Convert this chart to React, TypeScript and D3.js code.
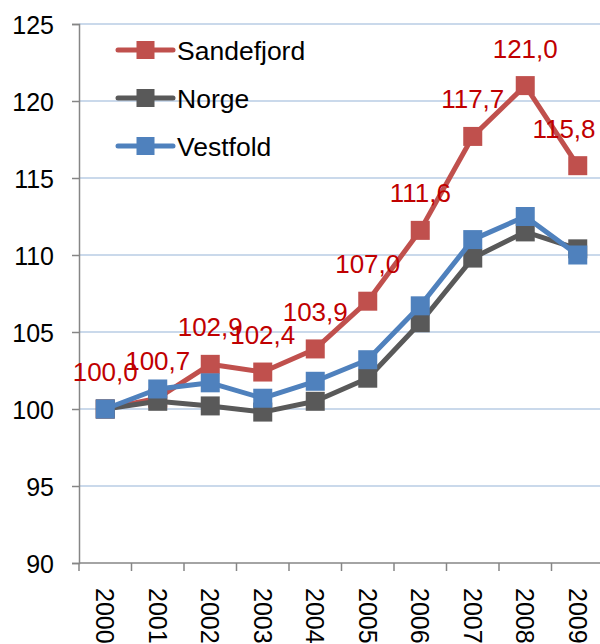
import React, { useEffect, useRef } from "react";
import * as d3 from "d3";

const years = ["2000", "2001", "2002", "2003", "2004", "2005", "2006", "2007", "2008", "2009"];
const sandefjord = [100.0, 100.7, 102.9, 102.4, 103.9, 107.0, 111.6, 117.7, 121.0, 115.8];
const norge = [100.0, 100.5, 100.2, 99.8, 100.5, 102.0, 105.6, 109.8, 111.5, 110.4];
const vestfold = [100.0, 101.3, 101.7, 100.7, 101.8, 103.2, 106.7, 111.0, 112.5, 110.0];
const yTicks = [90, 95, 100, 105, 110, 115, 120, 125];

const seriesList = [
  { name: "Sandefjord", values: sandefjord, color: "#C0504D" },
  { name: "Norge", values: norge, color: "#595959" },
  { name: "Vestfold", values: vestfold, color: "#4F81BD" },
];

const App: React.FC = () => {
  const svgRef = useRef<SVGSVGElement | null>(null);

  useEffect(() => {
    if (!svgRef.current) return;
    const svg = d3.select(svgRef.current);
    svg.selectAll("*").remove();

    const width = 600;
    const font = "'Liberation Sans', Arial, sans-serif";
    const left = 79;
    const band = 52.5;

    const x = d3
      .scaleBand<string>()
      .domain(years)
      .range([left, left + band * years.length]);
    const y = d3.scaleLinear().domain([90, 125]).range([563, 24]);
    const cx = (d: string) => x(d)! + x.bandwidth() / 2;

    // gridlines
    svg
      .append("g")
      .selectAll("line")
      .data(yTicks.filter((t) => t > 90))
      .enter()
      .append("line")
      .attr("x1", left)
      .attr("x2", width)
      .attr("y1", (d) => y(d))
      .attr("y2", (d) => y(d))
      .attr("stroke", "#B9CDE5")
      .attr("stroke-width", 1.5);

    // y axis
    const yAxis = d3
      .axisLeft(y)
      .tickValues(yTicks)
      .tickSize(7)
      .tickPadding(18)
      .tickFormat(d3.format("d"));
    const gy = svg.append("g").attr("transform", `translate(${left},0)`).call(yAxis);
    gy.select(".domain").attr("stroke", "#868686").attr("stroke-width", 1.5);
    gy.selectAll(".tick line").attr("stroke", "#868686").attr("stroke-width", 1.5);
    gy.selectAll(".tick text")
      .attr("font-family", font)
      .attr("font-size", 25)
      .attr("fill", "#000")
      .attr("dy", "0.36em");

    // x axis
    const gx = svg.append("g").attr("transform", `translate(0,${y(90)})`);
    gx.append("line")
      .attr("x1", left)
      .attr("x2", width)
      .attr("stroke", "#868686")
      .attr("stroke-width", 1.5);
    gx.selectAll("line.tick")
      .data(years.concat(["end"]))
      .enter()
      .append("line")
      .attr("class", "tick")
      .attr("x1", (_d, i) => left + i * x.bandwidth())
      .attr("x2", (_d, i) => left + i * x.bandwidth())
      .attr("y1", 0)
      .attr("y2", 8)
      .attr("stroke", "#868686")
      .attr("stroke-width", 1.5);
    gx.selectAll("text")
      .data(years)
      .enter()
      .append("text")
      .attr("transform", (d) => `translate(${cx(d)},25) rotate(90)`)
      .attr("dy", "0.36em")
      .attr("font-family", font)
      .attr("font-size", 25)
      .attr("fill", "#000")
      .text((d) => d);

    // lines + markers
    const line = d3
      .line<number>()
      .x((_d, i) => cx(years[i]))
      .y((d) => y(d));

    seriesList.forEach((s) => {
      const g = svg.append("g");
      g.append("path")
        .datum(s.values)
        .attr("d", line)
        .attr("fill", "none")
        .attr("stroke", s.color)
        .attr("stroke-width", 5)
        .attr("stroke-linejoin", "round");
      g.selectAll("rect")
        .data(s.values)
        .enter()
        .append("rect")
        .attr("x", (_d, i) => cx(years[i]) - 9.5)
        .attr("y", (d) => y(d) - 9.5)
        .attr("width", 19)
        .attr("height", 19)
        .attr("fill", s.color);
    });

    // data labels for Sandefjord
    const fmt = (v: number) => v.toFixed(1).replace(".", ",");
    svg
      .append("g")
      .selectAll("text")
      .data(sandefjord)
      .enter()
      .append("text")
      .attr("x", (_d, i) => Math.min(cx(years[i]), 597 - 33))
      .attr("y", (d) => y(d) - 28)
      .attr("text-anchor", "middle")
      .attr("font-family", font)
      .attr("font-size", 26)
      .attr("fill", "#C00000")
      .text((d) => fmt(d));

    // legend
    const legend = svg
      .append("g")
      .selectAll("g")
      .data(seriesList)
      .enter()
      .append("g")
      .attr("transform", (_d, i) => `translate(118,${50 + i * 48})`);
    legend
      .append("line")
      .attr("x1", 0)
      .attr("x2", 55)
      .attr("stroke", (d) => d.color)
      .attr("stroke-width", 5)
      .attr("stroke-linecap", "round");
    legend
      .append("rect")
      .attr("x", 18.5)
      .attr("y", -9)
      .attr("width", 18)
      .attr("height", 18)
      .attr("fill", (d) => d.color);
    legend
      .append("text")
      .attr("x", 59)
      .attr("dy", "0.36em")
      .attr("font-family", font)
      .attr("font-size", 26.5)
      .attr("fill", "#000")
      .text((d) => d.name);
  }, []);

  return (
    <svg
      ref={svgRef}
      width={600}
      height={644}
      style={{ position: "absolute", left: 0, top: 0, background: "#fff" }}
    ></svg>
  );
};

export default App;
